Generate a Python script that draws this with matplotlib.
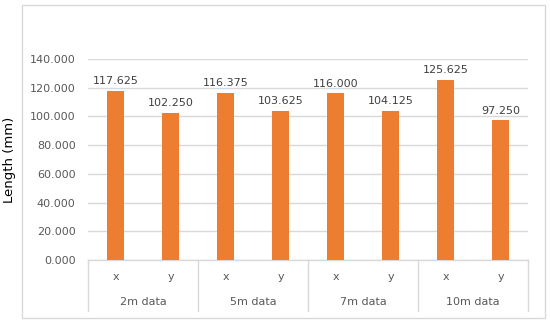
import matplotlib
matplotlib.use("Agg")
import matplotlib.pyplot as plt
import matplotlib.patches as patches
from matplotlib.transforms import blended_transform_factory

groups = ["2m data", "5m data", "7m data", "10m data"]
axes_labels = ["x", "y"]
values = [117.625, 102.250, 116.375, 103.625, 116.000, 104.125, 125.625, 97.250]
value_labels = ["117.625", "102.250", "116.375", "103.625", "116.000", "104.125", "125.625", "97.250"]
yticks = [0, 20, 40, 60, 80, 100, 120, 140]
ytick_labels = ["0.000", "20.000", "40.000", "60.000", "80.000", "100.000", "120.000", "140.000"]

plt.rcParams['font.family'] = ['DejaVu Sans']

W, H = 550, 323
fig = plt.figure(figsize=(W / 100, H / 100), dpi=100)
fig.patch.set_facecolor("white")

# outer chart border
fig.add_artist(patches.Rectangle((22 / W, 1 - 318 / H), (545 - 22) / W, (318 - 5) / H,
                                 transform=fig.transFigure, fill=False,
                                 edgecolor="#D9D9D9", linewidth=1.0))

left, right = 88 / W, 528 / W
bottom, top = 1 - 260 / H, 1 - 59 / H
ax = fig.add_axes([left, bottom, right - left, top - bottom])

n = len(values)
xs = list(range(n))
bar_color = "#ED7D31"
ax.bar(xs, values, width=0.31, color=bar_color, zorder=3)

fs = 8
for x, v, lab in zip(xs, values, value_labels):
    ax.annotate(lab, (x, v), xytext=(0, 3.5), textcoords="offset points",
                ha="center", va="bottom", fontsize=fs, color="#404040")

ax.set_xlim(-0.5, n - 0.5)
ax.set_ylim(0, 140)
ax.set_yticks(yticks)
ax.set_yticklabels(ytick_labels, fontsize=fs, color="#595959")
ax.tick_params(axis="y", length=0, pad=9)
ax.set_xticks([])
ax.grid(axis="y", color="#D9D9D9", linewidth=1.0, zorder=0)
for s in ["top", "right", "left"]:
    ax.spines[s].set_visible(False)
ax.spines["bottom"].set_color("#D9D9D9")
ax.spines["bottom"].set_linewidth(1.0)

# category axis (two-level)
trans = blended_transform_factory(ax.transData, fig.transFigure)
y_sub = 1 - 277 / H
y_grp = 1 - 302 / H
sep_bottom = 1 - 311 / H
for i, x in enumerate(xs):
    ax.text(x, y_sub, axes_labels[i % 2], transform=trans, ha="center", va="center",
            fontsize=fs, color="#595959")
per = len(axes_labels)
for g, name in enumerate(groups):
    cx = g * per + (per - 1) / 2
    ax.text(cx, y_grp, name, transform=trans, ha="center", va="center",
            fontsize=fs, color="#595959")
for g in range(len(groups) + 1):
    bx = g * per - 0.5
    ax.plot([bx, bx], [bottom, sep_bottom], transform=trans, color="#D9D9D9",
            linewidth=1.0, clip_on=False)

fig.text(10 / W, 1 - 160 / H, "Length (mm)", rotation=90, ha="center", va="center",
         fontsize=9.5, color="black")

fig.savefig("out.png", dpi=100)
